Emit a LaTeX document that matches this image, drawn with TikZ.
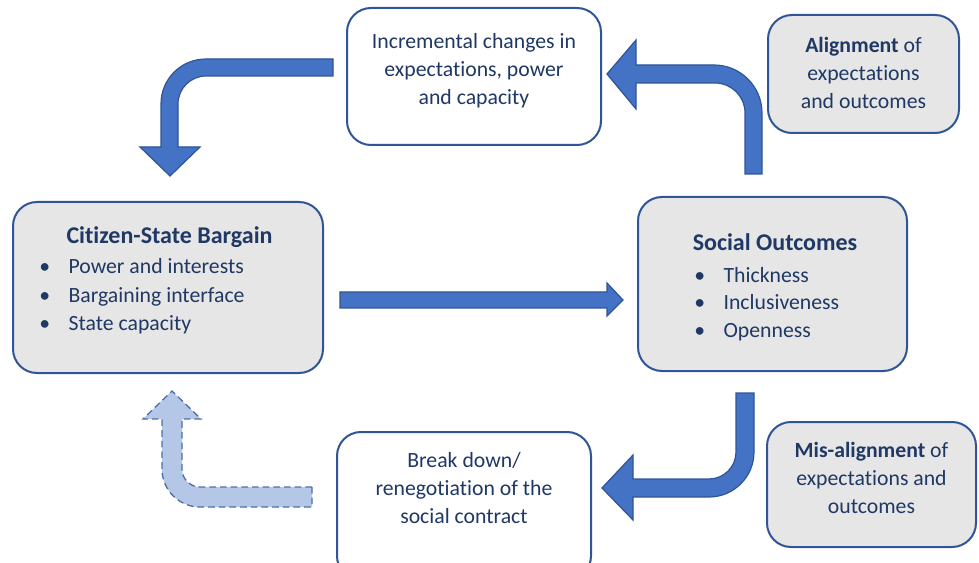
\documentclass[tikz,border=0pt]{standalone}
\usepackage{fontspec}
\setmainfont{Carlito}[Ligatures=NoCommon]

\definecolor{arrowblue}{HTML}{4472C4}
\definecolor{arrowline}{HTML}{2F5597}
\definecolor{paleblue}{HTML}{B4C7E7}
\definecolor{boxline}{HTML}{2F5597}
\definecolor{boxgray}{HTML}{E7E6E6}
\definecolor{inktext}{HTML}{1F3864}

\tikzset{
  box/.style={draw=boxline, line width=1.5pt, rounded corners=18pt, fill=white, inner sep=0pt},
  graybox/.style={box, fill=boxgray},
  txt/.style={text=inktext, font=\fontsize{16.3}{21}\selectfont, align=center, inner sep=0pt},
  headtxt/.style={txt, anchor=base, font=\fontsize{18}{21}\selectfont\bfseries},
  blockarrow/.style={fill=arrowblue, draw=arrowline, line width=0.9pt, line join=miter},
  ghostarrow/.style={fill=paleblue, draw=arrowline!85, line width=1pt, dash pattern=on 5pt off 3pt},
}

\newcommand{\bul}{\makebox[22pt][l]{\textbullet}}

\begin{document}
\begin{tikzpicture}[x=0.75pt, y=-0.75pt]
  \useasboundingbox (0,0) rectangle (979,563);
  \clip (0,0) rectangle (979,563);

  % boxes
  \node[box, minimum width=190.5pt, minimum height=102.75pt] (inc) at (474,76.5) {};
  \node[graybox, minimum width=143.25pt, minimum height=88.5pt] (align) at (863.5,74) {};
  \node[graybox, minimum width=232.5pt, minimum height=128.25pt] (csb) at (168,287.5) {};
  \node[graybox, minimum width=201.75pt, minimum height=130.5pt] (soc) at (772.5,284) {};
  \node[box, minimum width=190.5pt, minimum height=111pt] (brk) at (464,506) {};
  \node[graybox, minimum width=156.75pt, minimum height=93.75pt] (mis) at (871.5,484.5) {};

  % box texts
  \node[txt] (inctext) at (474,71) {Incremental changes in\\expectations, power\\and capacity};
  \node[txt] (aligntext) at (863.5,73) {\textbf{Alignment} of\\expectations\\and outcomes};
  \node[txt] (brktext) at (464,488) {Break down/\\renegotiation of the\\social contract};
  \node[txt] (mistext) at (871.5,478) {\textbf{Mis-alignment} of\\expectations and\\outcomes};

  \node[headtxt] (csbtitle) at (169.5,244) {Citizen-State Bargain};
  \foreach \lbl [count=\i] in {Power and interests, Bargaining interface, State capacity}
    \node[txt, anchor=base west] (csbitem\i) at (39,246+28*\i) {\bul\lbl};

  \node[headtxt] (soctitle) at (775,251) {Social Outcomes};
  \foreach \lbl [count=\i] in {Thickness, Inclusiveness, Openness}
    \node[txt, anchor=base west] (socitem\i) at (694,254+28*\i) {\bul\lbl};

  % straight arrow between the two main boxes
  \draw[blockarrow] (340,292) -- (607,292) -- (607,283) -- (623,300) -- (607,316) -- (607,308) -- (340,308) -- cycle;

  % bent arrows
  \draw[blockarrow] (333,59) -- (206,59) .. controls (181,59) and (161,79) .. (161,104)
    -- (161,147) -- (140,147) -- (170,176) -- (200,147) -- (178,147) -- (178,104)
    .. controls (178,88.5) and (190.5,76) .. (206,76) -- (333,76) -- cycle;
  \draw[blockarrow] (745,174) -- (745,113) .. controls (745,96.4) and (731.6,83) .. (715,83)
    -- (636,83) -- (636,109) -- (607,74) -- (636,40) -- (636,65) -- (714,65)
    .. controls (740.5,65) and (762,86.5) .. (762,113) -- (762,174) -- cycle;
  \draw[blockarrow] (736,393) -- (754,393) -- (754,452) .. controls (754,476.8) and (733.8,497) .. (709,497)
    -- (633,497) -- (633,520) -- (602,488) -- (633,455) -- (633,479) -- (709,479)
    .. controls (723.9,479) and (736,466.9) .. (736,452) -- cycle;

  % feedback into the bargain (dashed)
  \draw[ghostarrow] (312,487) -- (200,487) .. controls (190.1,487) and (182,478.9) .. (182,469)
    -- (182,419) -- (201,419) -- (172,391) -- (143,419) -- (162,419) -- (162,469)
    .. controls (162,490) and (179,507) .. (200,507) -- (312,507) -- cycle;
\end{tikzpicture}
\end{document}
